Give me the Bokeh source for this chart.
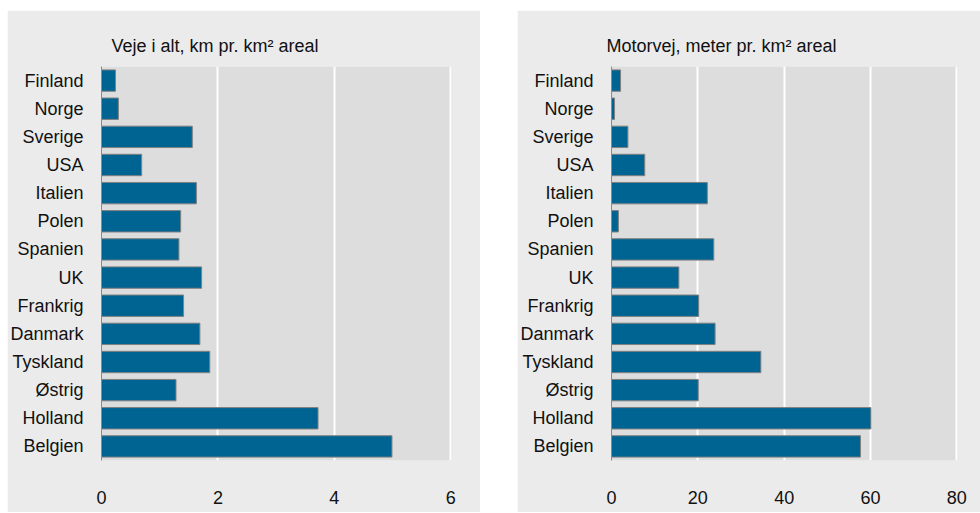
from bokeh.plotting import figure
from bokeh.layouts import row, column
from bokeh.models import Spacer, ColumnDataSource, Range1d, FactorRange, FixedTicker
from bokeh.embed import file_html
from bokeh.resources import INLINE

countries = ["Finland", "Norge", "Sverige", "USA", "Italien", "Polen", "Spanien",
             "UK", "Frankrig", "Danmark", "Tyskland", "Østrig", "Holland", "Belgien"]
roads_total = [0.24, 0.29, 1.56, 0.69, 1.63, 1.36, 1.33, 1.72, 1.41, 1.69, 1.86, 1.28, 3.72, 4.99]
motorway = [2.1, 0.7, 3.8, 7.7, 22.2, 1.6, 23.7, 15.6, 20.2, 24.0, 34.6, 20.1, 60.1, 57.7]
title_left = "Veje i alt, km pr. km² areal"
title_right = "Motorvej, meter pr. km² areal"
ticks_left = [0, 2, 4, 6]
ticks_right = [0, 20, 40, 60, 80]

FONT = "Liberation Sans"
PANEL = "#ebebeb"
PLOT_BG = "#dddddd"
BAR = "#006492"


def make(values, title, ticks, xmax, width, left, right, title_offset):
    src = ColumnDataSource(dict(c=countries, v=values))
    p = figure(width=width, height=502, output_backend="svg", toolbar_location=None,
               y_range=FactorRange(*list(reversed(countries)), range_padding=0),
               x_range=Range1d(0, xmax),
               min_border_left=left, min_border_right=right,
               min_border_top=56, min_border_bottom=52)
    p.hbar(y="c", right="v", left=0, height=0.76, source=src,
           fill_color=BAR, line_color="#808080", line_width=1)
    p.background_fill_color = PLOT_BG
    p.border_fill_color = PANEL
    p.outline_line_color = None
    p.title.text = title
    p.title.text_font = FONT
    p.title.text_font_size = "18px"
    p.title.text_font_style = "normal"
    p.title.text_color = "#111111"
    p.title.align = "left"
    p.title.offset = title_offset
    p.title.standoff = 21
    p.ygrid.grid_line_color = None
    p.xgrid.grid_line_color = "white"
    p.xgrid.grid_line_width = 2
    p.xaxis.ticker = FixedTicker(ticks=ticks)
    p.xaxis.axis_line_color = None
    p.xaxis.major_tick_line_color = None
    p.xaxis.minor_tick_line_color = None
    p.xaxis.major_label_standoff = 24
    p.yaxis.axis_line_color = "#8a8a8a"
    p.yaxis.axis_line_width = 1
    p.yaxis.major_tick_line_color = None
    p.yaxis.minor_tick_line_color = None
    p.yaxis.major_label_standoff = 12
    for ax in (p.xaxis, p.yaxis):
        ax.major_label_text_font = FONT
        ax.major_label_text_font_size = "18px"
        ax.major_label_text_color = "#111111"
    return p


p1 = make(roads_total, title_left, ticks_left, 6.03, 473, 91, 28, 10)
p2 = make(motorway, title_right, ticks_right, 80.4, 463, 92, 22, -5)

layout = column(Spacer(height=10),
                row(Spacer(width=7), p1, Spacer(width=37), p2, spacing=0),
                spacing=0)

with open("out.html", "w") as f:
    f.write(file_html(layout, INLINE))
